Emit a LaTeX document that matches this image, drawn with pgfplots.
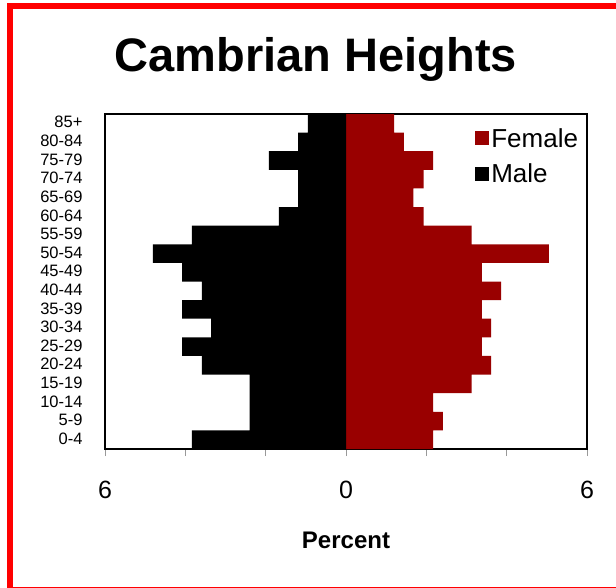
\documentclass[border=0pt]{standalone}
\usepackage{pgfplots}
\pgfplotsset{compat=1.18}
\usepackage{fontspec}
\setmainfont{Liberation Sans}
\definecolor{fem}{RGB}{153,0,0}
\definecolor{frame}{RGB}{255,0,0}
\begin{document}
\begin{tikzpicture}
\useasboundingbox (0pt,0pt) rectangle (616pt,587pt);
\fill[white] (0pt,0pt) rectangle (616pt,587pt);
\draw[frame, line width=6pt] (10pt,-3pt) rectangle (630pt,581pt);
\begin{axis}[
  at={(105pt,138pt)}, anchor=south west,
  scale only axis, width=482pt, height=335pt,
  xmin=-6, xmax=6, ymin=-0.5, ymax=17.5,
  xbar, bar width=1, bar shift=0pt,
  axis line style={black, line width=1.2pt},
  xtick={-6,-4,-2,0,2,4,6},
  xticklabels={6,,,0,,,6},
  xtick pos=left, tick align=outside,
  major tick length=7pt,
  x tick style={gray!80, line width=1pt},
  ytick={0,...,17},
  yticklabels={0-4,5-9,10-14,15-19,20-24,25-29,30-34,35-39,40-44,45-49,50-54,55-59,60-64,65-69,70-74,75-79,80-84,85+},
  y tick style={draw=none},
  yticklabel style={font=\fontsize{16.5}{18}\selectfont, xshift=-12pt, yshift=1pt},
  xticklabel style={font=\fontsize{25}{28}\selectfont, yshift=-22pt},
  /pgf/number format/assume math mode=true,
  title={Cambrian Heights},
  title style={font=\fontsize{47}{52}\selectfont\bfseries, at={(axis description cs:0.5,1)}, anchor=center, yshift=49pt, xshift=-30pt},
  xlabel={Percent},
  xlabel style={font=\fontsize{24}{28}\selectfont\bfseries, at={(axis description cs:0.5,0)}, anchor=center, yshift=-91pt},
  legend style={draw=none, fill=none, at={(axis description cs:0.99,0.97)}, anchor=north east,
    font=\fontsize{26}{30}\selectfont, row sep=11pt, inner sep=2pt},
  legend cell align=left,
  legend image code/.code={\fill[#1] (0pt,-7pt) rectangle (14pt,7pt);},
]
\addplot[fill=fem, draw=none] coordinates {
(2.17,0) (2.41,1) (2.17,2) (3.13,3) (3.61,4) (3.38,5) (3.61,6) (3.38,7) (3.86,8)
(3.38,9) (5.05,10) (3.13,11) (1.93,12) (1.68,13) (1.93,14) (2.17,15) (1.44,16) (1.20,17)};
\addlegendentry{Female}
\addplot[fill=black, draw=none] coordinates {
(-3.84,0) (-2.40,1) (-2.40,2) (-2.40,3) (-3.59,4) (-4.08,5) (-3.36,6) (-4.08,7) (-3.59,8)
(-4.08,9) (-4.81,10) (-3.84,11) (-1.67,12) (-1.19,13) (-1.19,14) (-1.92,15) (-1.19,16) (-0.95,17)};
\addlegendentry{Male}
\end{axis}
\end{tikzpicture}
\end{document}
